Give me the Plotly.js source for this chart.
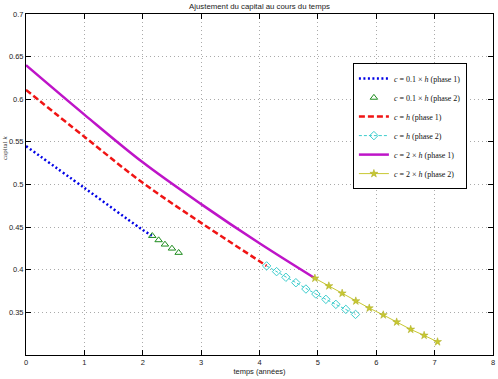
<!DOCTYPE html>
<html>
<head>
<meta charset="utf-8">
<script src="https://cdn.plot.ly/plotly-3.0.1.min.js"></script>
<style>
  html, body { margin: 0; padding: 0; background: #fff; }
  #chart { width: 498px; height: 379px; }
</style>
</head>
<body>
<div id="chart"></div>
<script>
// Capital trajectories k(t) for three cost levels, each in two phases
const tLowP1 = [0, 1, 1.952, 2.155];
const kLowP1 = [0.545, 0.496, 0.449, 0.440];
const tLowP2 = [2.163, 2.272, 2.380, 2.500, 2.615];
const kLowP2 = [0.4398, 0.4348, 0.4297, 0.4250, 0.4200];

const tMidP1 = [0, 1, 2, 3, 4, 4.122];
const kMidP1 = [0.611, 0.556, 0.502, 0.455, 0.410, 0.4045];
const tMidP2 = [4.122, 4.293, 4.452, 4.623, 4.795, 4.966, 5.137, 5.308, 5.479, 5.645];
const kMidP2 = [0.4045, 0.3978, 0.3912, 0.3848, 0.3774, 0.3715, 0.3653, 0.3594, 0.3535, 0.3476];

const tHighP1 = [0, 1, 2, 3, 4, 4.949];
const kHighP1 = [0.640, 0.582, 0.526, 0.477, 0.431, 0.390];
const tHighP2 = [4.949, 5.188, 5.416, 5.65, 5.88, 6.12, 6.35, 6.59, 6.82, 7.05];
const kHighP2 = [0.390, 0.381, 0.3724, 0.3633, 0.355, 0.347, 0.3386, 0.330, 0.323, 0.3154];

const seriesNames = [
  '<i>c</i> = 0.1 × <i>h</i> (phase 1)',
  '<i>c</i> = 0.1 × <i>h</i> (phase 2)',
  '<i>c</i> = <i>h</i> (phase 1)',
  '<i>c</i> = <i>h</i> (phase 2)',
  '<i>c</i> = 2 × <i>h</i> (phase 1)',
  '<i>c</i> = 2 × <i>h</i> (phase 2)'
];
const xTicks = [0, 1, 2, 3, 4, 5, 6, 7, 8];
const yTicks = [0.35, 0.4, 0.45, 0.5, 0.55, 0.6, 0.65, 0.7];
const yTickText = ['0.35', '0.4', '0.45', '0.5', '0.55', '0.6', '0.65', '0.7'];

const traces = [
  { x: tLowP1, y: kLowP1, name: seriesNames[0], mode: 'lines',
    line: { color: 'rgb(0,0,230)', width: 2.5, dash: '2px,2.5px', shape: 'spline' } },
  { x: tLowP2, y: kLowP2, name: seriesNames[1], mode: 'markers',
    marker: { symbol: 'triangle-up-open', size: 6.5, color: 'rgb(30,140,30)', line: { width: 1 } } },
  { x: tMidP1, y: kMidP1, name: seriesNames[2], mode: 'lines',
    line: { color: 'rgb(240,20,20)', width: 2.5, dash: '6px,3px', shape: 'spline' } },
  { x: tMidP2, y: kMidP2, name: seriesNames[3], mode: 'lines+markers',
    line: { color: 'rgb(60,205,205)', width: 1, dash: '3px,2px' },
    marker: { symbol: 'diamond-open', size: 6.5, color: 'rgb(60,205,205)', line: { width: 1 } } },
  { x: tHighP1, y: kHighP1, name: seriesNames[4], mode: 'lines',
    line: { color: 'rgb(190,20,200)', width: 2.5, shape: 'spline' } },
  { x: tHighP2, y: kHighP2, name: seriesNames[5], mode: 'lines+markers',
    line: { color: 'rgb(200,200,50)', width: 1 },
    marker: { symbol: 'star', size: 6, color: 'rgb(200,200,50)', line: { width: 0.5, color: 'rgb(170,170,30)' } } }
];

const axisCommon = {
  showline: true, linecolor: '#000', linewidth: 1, mirror: 'ticks',
  ticks: 'inside', ticklen: 5, tickcolor: '#000', tickwidth: 1,
  showgrid: true, gridcolor: 'rgb(170,170,170)', griddash: '1px,3px', gridwidth: 1,
  zeroline: false,
  tickfont: { family: 'Liberation Sans, Arial, sans-serif', size: 7.5, color: '#222' }
};

const layout = {
  width: 498, height: 379,
  margin: { l: 26, r: 5, t: 14, b: 24 },
  paper_bgcolor: '#fff', plot_bgcolor: '#fff',
  title: {
    text: 'Ajustement du capital au cours du temps',
    font: { family: 'Liberation Sans, Arial, sans-serif', size: 7.8, color: '#222' },
    x: 0.5, xref: 'paper', y: 0.984, yref: 'container', yanchor: 'middle'
  },
  xaxis: Object.assign({}, axisCommon, {
    range: [0, 8], tickvals: xTicks,
    title: { text: 'temps (années)', standoff: 2,
      font: { family: 'Liberation Sans, Arial, sans-serif', size: 7.5, color: '#222' } }
  }),
  yaxis: Object.assign({}, axisCommon, {
    range: [0.3, 0.7], tickvals: yTicks, ticktext: yTickText
  }),
  showlegend: true,
  legend: {
    x: 0.700, y: 0.856, xanchor: 'left', yanchor: 'top',
    bgcolor: '#fff', bordercolor: '#000', borderwidth: 1,
    font: { family: 'Liberation Serif, DejaVu Serif, serif', size: 8, color: '#111' },
    itemwidth: 30, tracegroupgap: 0
  },
  annotations: [{
    text: 'capital <i>k</i>', textangle: -90, showarrow: false,
    xref: 'paper', yref: 'paper', x: -0.045, y: 0.607,
    xanchor: 'center', yanchor: 'middle',
    font: { family: 'Liberation Serif, DejaVu Serif, serif', size: 7, color: '#333' }
  }]
};

Plotly.newPlot('chart', traces, layout, { displayModeBar: false, staticPlot: true });
</script>
</body>
</html>
